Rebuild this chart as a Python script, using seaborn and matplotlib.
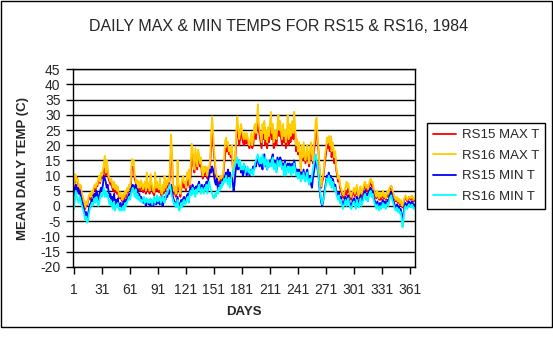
import numpy as np
import pandas as pd
import matplotlib
matplotlib.use("Agg")
import matplotlib.pyplot as plt
import seaborn as sns
from matplotlib.patches import Rectangle

title = "DAILY MAX & MIN TEMPS FOR RS15 & RS16, 1984"
series_names = ["RS15 MAX T", "RS16 MAX T", "RS15 MIN T", "RS16 MIN T"]
series_colors = ["#FF0000", "#FFCC00", "#0000FF", "#00FFFF"]
x_tick_labels = [1, 31, 61, 91, 121, 151, 181, 211, 241, 271, 301, 331, 361]
y_ticks = list(range(-20, 50, 5))
days = list(range(1, 367))

rs15_max = [
    4, 9, 8, 9.5, 8, 6, 5, 6.5, 4, 3,
    2, 0.5, -1, 1, 0, 1.5, 2.5, 3, 2, 4,
    3.5, 5, 6, 5, 7, 6.5, 8, 9, 7.5, 10,
    9, 11, 12.5, 11, 10, 13, 12, 9, 8, 7,
    8, 6, 5, 7, 4.5, 6, 4, 5.5, 3, 2.5,
    3.5, 2, 1.5, 3, 2, 4, 3, 5, 4.5, 6,
    5.5, 7, 12.5, 13, 12, 9, 8, 6, 7, 5,
    6.5, 5, 7, 6, 4.5, 5.5, 6, 4, 7, 5,
    6, 4, 8, 6.5, 5, 4, 3.5, 6, 5, 7,
    5, 4.5, 6, 4, 3, 5.5, 4, 6, 5, 7.5,
    6, 8, 7, 12, 18, 16, 6, 4, 5, 3,
    4, 10, 6, 5, 3, 5.5, 7, 8, 6, 7,
    5, 8, 7, 9, 6, 10, 15, 17, 13, 11,
    16, 14, 12, 17, 15, 13, 14, 11, 9, 12,
    10, 12, 11, 9, 12, 11, 14, 20, 25, 21,
    17, 14, 10, 9, 8, 7.5, 8, 9, 8, 8.5,
    10, 14, 17, 19, 18, 20, 17, 18, 16, 19,
    13, 9, 11, 16, 22, 25, 24, 20, 22, 25,
    23, 21, 20, 22, 20.5, 21, 22, 20, 19, 21,
    22, 19, 20, 23, 24, 22, 26, 28, 25, 23,
    21, 19, 24, 22, 26, 20, 22, 19, 23, 21,
    24, 26, 22, 25, 19, 23, 21, 20, 24, 26,
    23, 25, 22, 20, 24, 21, 23, 19, 22, 25,
    20, 24, 21, 23, 26, 22, 25, 24, 18, 20,
    17, 19, 16, 14, 18, 15, 19, 17, 14, 16,
    18, 15, 13, 17, 19, 16, 14, 18, 20, 24,
    25, 21, 18, 12, 7, 6, 8, 9, 12, 15,
    17, 20, 19, 21, 18, 22, 16, 19, 17, 14,
    16, 12, 10, 8, 9, 6, 5, 4, 3, 2.5,
    4, 5, 3.5, 5, 6, 4.5, 3, 2, 3.5, 4,
    5, 3, 4.5, 6, 3.5, 2.5, 4, 5.5, 3, 4,
    5, 6.5, 7, 5, 6, 4.5, 6, 7.5, 8, 6.5,
    7, 5, 4, 3, 2.5, 4, 3, 2, 3.5, 2,
    3, 4, 2.5, 3.5, 2, 3, 4.5, 3, 5, 6,
    6.5, 5, 4, 3, 2, 1.5, 2.5, 1, 2, 0.5,
    1.5, 0, -0.5, 1, 2, 3, 2.5, 1.5, 2, 3,
    2.5, 2, 3, 2.5, 1.5, 2,
]

rs16_max = [
    3, 10.5, 10, 8, 9, 7, 6, 7, 5, 3.5,
    2.5, 1, -0.5, 1.5, 0.5, 2, 3.5, 4, 3, 5,
    4, 6, 7, 6, 7.5, 7, 9, 10, 8, 11,
    10, 12, 14, 16.5, 11, 15, 13, 10, 9, 8,
    9, 7, 6, 8, 5.5, 7, 5, 6.5, 4, 3,
    4.5, 3, 2, 4, 3, 5, 4, 6, 5, 7,
    6, 9, 15.5, 14, 15, 10, 9, 7, 8.5, 6,
    8, 6, 8.5, 7, 5.5, 7, 8, 5, 11, 6,
    7.5, 5, 10.5, 8, 6, 5, 4.5, 11, 6, 8,
    6, 5.5, 9, 5, 4, 7, 5, 10, 6, 8.5,
    7, 9, 8, 14, 23.5, 18, 7, 5, 6.5, 4,
    5, 15, 7, 6, 4, 7, 9, 10, 7.5, 8,
    6, 11, 9, 12, 7, 13, 20.5, 19, 14, 12,
    19, 16, 13, 18.5, 17, 14, 16, 12, 10, 13,
    11, 13, 12, 10, 13, 12, 16, 24, 29.5, 24,
    19, 15, 11, 10, 9, 8.5, 9, 10, 9, 9.5,
    11, 16, 21.5, 22.5, 20, 21, 18, 19, 17, 20,
    14, 8.5, 12, 18, 25, 29.5, 26, 22, 24, 27,
    25, 23, 22, 24, 22, 24, 23, 21, 20, 22,
    24, 20, 22, 26, 27, 24, 28, 33.5, 27, 25,
    23, 21, 27, 24, 28, 22, 25, 21, 26, 23,
    27, 31, 24, 27, 21, 25, 23, 22, 27, 30,
    25, 28, 24, 22, 27, 23, 25, 21, 24, 30,
    22, 27, 23, 25, 28, 24, 31, 26, 20, 22,
    18, 21, 17, 9.5, 20, 16, 21, 18, 15, 17,
    20, 16, 14, 19, 21, 17, 15, 20, 22, 28.5,
    29, 23, 19, 13, 8, 6.5, 9, 10, 13, 17,
    19, 22.5, 21, 23, 20, 23, 18, 21, 19, 16,
    18, 13, 11, 9, 10, 7, 6, 5, 4, 3.5,
    5, 6.5, 8, 6, 7.5, 5.5, 4, 3, 4.5, 5,
    6, 4, 5.5, 7, 4.5, 3, 5, 6.5, 4, 5,
    6, 7.5, 8, 6, 7, 5.5, 7, 8.5, 9, 7.5,
    8, 6, 5, 4, 3, 5, 3.5, 2.5, 4.5, 3,
    3.5, 5, 3, 4, 2.5, 3.5, 5, 4, 6, 6.5,
    6.5, 5.5, 4.5, 3.5, 2.5, 2, 3, 1.5, 2.5, 1,
    2, 0.5, 0, 1.5, 2.5, 3.5, 3, 2, 2.5, 3,
    3, 2.5, 3.5, 3, 2, 2.5,
]

rs15_min = [
    0, 6, 7, 5, 6, 4, 5, 3.5, 2, 1,
    0, -1.5, -3, -2, -4, -3, -1, 0.5, 1, 2,
    1.5, 3, 4, 2.5, 5, 4, 2, 3, 5, 6,
    5, 7, 10, 9, 8, 6, 7, 5, 3, 4,
    2, 3, 1, 4, 0.5, 2, 1, 2.5, 0, 0.5,
    1, -0.5, 0, 1.5, 0, 2, 1, 2.5, 3, 4,
    3, 5, 6.5, 7, 6, 5, 7, 4, 5.5, 3,
    4, 2.5, 3, 2, 1, 2.5, 1.5, 0, 2, 1,
    0.5, 1.5, 0, 2, 1, 0, 1.5, 2, 0.5, 1,
    2, 1, 0.5, 2.5, 1, 0, 1.5, 3, 2, 4,
    3, 5, 4, 6, 7, 5, 3, 2, 1, 0,
    1.5, 3, 0.5, -0.5, 1, 2, 0, 2.5, 3, 1.5,
    2, 3.5, 4, 2, 5, 6, 4.5, 7, 5, 6,
    4, 6.5, 5, 7, 8, 6, 5, 7, 6, 5,
    7, 6, 8, 5, 9, 10, 12, 11, 13, 12,
    10, 8, 7, 9, 6, 5, 7.5, 6, 8, 7,
    9, 8, 10, 11, 9, 12, 10, 11, 9, 10,
    8, 5, 7, 11, 13, 14, 12, 15, 13, 11,
    12, 10, 11, 13, 12, 10, 11, 12, 10, 11,
    12, 11, 13, 12, 14, 13, 15, 16, 14, 13,
    15, 14, 12, 16, 17, 13, 15, 12, 14, 13,
    15, 14, 16, 17, 13, 15, 14, 12, 16, 15,
    14, 16, 15, 13, 14, 12, 15, 11, 13, 14,
    12, 14, 13, 11, 14, 12, 15, 13, 11, 12,
    10, 12, 11, 9, 11, 10, 12, 10, 9, 11,
    12, 9, 8, 10, 7, 6, 9, 11, 13, 15,
    14, 12, 10, 6, 3, 1, 0, 1.5, 4, 6,
    8, 10, 9, 11, 8, 10, 7, 9, 8, 6,
    7, 5, 4, 3, 4.5, 2, 3, 1.5, 0, 1,
    2, 3, 1, 2.5, 3.5, 1.5, 0.5, -0.5, 1, 2,
    2.5, 1, 0, 3, 1.5, 0.5, 2, 3.5, 1, 2,
    3, 4.5, 5, 3, 4, 2.5, 4.5, 5.5, 6, 4,
    5, 3, 2, 1, 0, 1.5, 0.5, -0.5, 1, 0,
    1, 2, 0.5, 1.5, 0, 1, 2, 1, 3, 4,
    4.5, 3, 2, 1, 0, -0.5, 0.5, -1, 0, -1.5,
    -1, -2.5, -4.5, -3, -0.5, 1, 0.5, 0, 1, 1.5,
    1, 0.5, 1.5, 1, 0, 0.5,
]

rs16_min = [
    -1, 3, 5, 3, 2, 1, 3, 2, 0.5, -0.5,
    -1.5, -3, -4.5, -3.5, -5.5, -5, -2.5, -1, 0, 1,
    0, 1.5, 2.5, 1, 3, 2, 0, 1, 3, 4,
    3, 4.5, 6, 3, 5, 3, 4, 2, 0.5, 2,
    0, 1, -1, 1.5, -1.5, 0, -0.5, 1, -1, -1.5,
    -0.5, -1.5, -1, 0, -1.5, 1, 0, 1.5, 2, 3,
    2, 4, 5, 6, 4.5, 3, 5.5, 2.5, 4, 2,
    3, 1.5, 2, 1, 2, 3, 1, 1.5, 2.5, 1,
    2, 1, 2.5, 1.5, 0.5, 2, 3, 1, 2, 3.5,
    1.5, 2.5, 3, 1, 2, 3.5, 2, 1, 3, 4.5,
    4, 5.5, 6, 7, 5, 3, 2, 0.5, 1, -0.5,
    0, 2, -1, -1.5, 0, 1, -0.5, 1.5, 2, 0.5,
    1, 2.5, 3, 1, 4, 5, 3.5, 6, 4, 5,
    3, 5.5, 4, 6, 7, 5, 4, 6, 5, 4,
    6, 5, 7, 4, 7, 8, 6, 5, 4, 3,
    2.5, 4, 3, 5, 4, 6, 5, 7, 6, 8,
    7, 9, 8, 10, 8.5, 7, 9, 6, 8, 10,
    10, 12, 13, 14, 15, 16, 14, 13, 15, 12,
    13, 12, 14, 13, 11, 12, 13, 11, 12, 10.5,
    11, 12, 10, 12, 14, 15, 16, 17, 15, 14,
    16, 14, 17, 15, 13, 16, 14, 12, 15, 13,
    14, 13, 15, 16, 12, 14, 13, 11, 15, 14,
    13, 15, 14, 12, 13, 10, 14, 10, 12, 13,
    11, 13, 12, 10, 13, 11, 14, 12, 10, 11,
    9, 11, 10, 8, 10, 9, 11, 9, 8, 10,
    11, 8, 7, 9, 8, 10, 12, 14, 16, 17,
    15, 13, 10, 7, 4, 2, 0.5, 2, 3, 5,
    7, 9, 8, 10, 7, 9, 6, 8, 7, 5,
    6, 4, 3, 2, 3.5, 1, 2, 0.5, -1, 0,
    1, 2, 0, 1.5, 2.5, 0.5, -0.5, -1, 0, 1,
    1.5, 0, -1, 2, 0.5, -0.5, 1, 2.5, 0, 1,
    2, 3.5, 4, 2, 3, 1.5, 3.5, 4.5, 5, 3,
    4, 2, 1, 0, -1, 0.5, -0.5, -1.5, 0, -1,
    0, 1, -0.5, 0.5, -1, 0, 1, 0, 2, 3,
    3.5, 2, 1, 0, -1, -1.5, -0.5, -2, -1, -2.5,
    -2, -4, -7, -5, -1.5, 0, -0.5, -1, 0, 0.5,
    0, -0.5, 0.5, 0, -1, -0.5,
]

frames = []
for name, vals in zip(series_names, [rs15_max, rs16_max, rs15_min, rs16_min]):
    frames.append(pd.DataFrame({"day": days, "temp": vals, "series": name}))
df = pd.concat(frames, ignore_index=True)

sns.set_style("white")
plt.rcParams["font.family"] = ["Liberation Sans", "DejaVu Sans"]

W, H = 553, 339
fig = plt.figure(figsize=(W / 100, H / 100), dpi=100)
ax = fig.add_axes([73 / W, 1 - 266.7 / H, (415 - 73) / W, (266.7 - 69.3) / H])

sns.lineplot(data=df, x="day", y="temp", hue="series", hue_order=series_names,
             palette=dict(zip(series_names, series_colors)), linewidth=1.3,
             ax=ax, legend=True, estimator=None, sort=False)

ax.set_xlim(-0.07, 366.4)
ax.set_ylim(-20, 45)
ax.set_yticks(y_ticks)
ax.set_yticklabels([str(v) for v in y_ticks])
ax.set_xticks(x_tick_labels)
ax.set_xticklabels([str(v) for v in x_tick_labels])
ax.tick_params(axis="y", direction="out", length=5, width=1, color="black",
               labelsize=10, pad=4, left=True)
ax.tick_params(axis="x", direction="out", length=5, width=1, color="black",
               labelsize=10, pad=7, bottom=True)
ax.yaxis.grid(True, color="black", linewidth=1)
ax.xaxis.grid(False)
ax.set_axisbelow(True)
for s in ax.spines.values():
    s.set_color("black")
    s.set_linewidth(1)
ax.set_xlabel("DAYS", fontsize=9.5, fontweight="bold", labelpad=6)
ax.set_ylabel("MEAN DAILY TEMP (C)", fontsize=9.5, fontweight="bold", labelpad=8)

fig.text(279 / W, 1 - 26.7 / H, title, ha="center", va="center", fontsize=11.5)

handles, labels = ax.get_legend_handles_labels()
ax.get_legend().remove()
leg = fig.legend(handles, labels, loc="upper left",
                 bbox_to_anchor=(426.7 / W, 1 - 123.3 / H), borderaxespad=0,
                 fontsize=9.5, frameon=True, fancybox=False, framealpha=1,
                 edgecolor="black", handlelength=1.75, handletextpad=0.45,
                 labelspacing=0.62, borderpad=0.45)
leg.get_frame().set_linewidth(1)
for lh in leg.get_lines():
    lh.set_linewidth(1.3)

fig.patches.append(Rectangle((0.5 / W, 1 - 326.5 / H), 551 / W, 326 / H,
                             transform=fig.transFigure, fill=False,
                             edgecolor="black", linewidth=1))

fig.savefig("out.png", dpi=100)
